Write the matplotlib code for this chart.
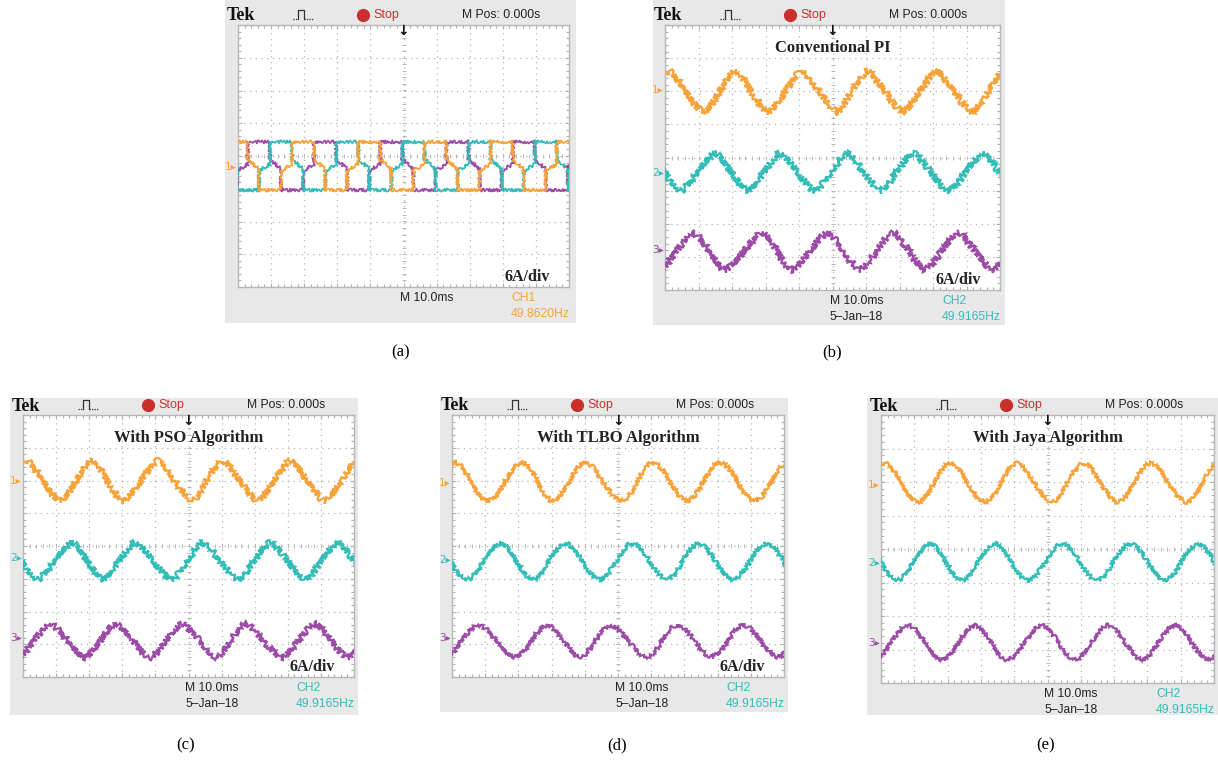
import numpy as np
import matplotlib.pyplot as plt
from matplotlib.path import Path
from matplotlib.patches import PathPatch
from matplotlib.ticker import MultipleLocator

W, H = 1218, 760
ORANGE, TEAL, PURPLE = '#f8a23a', '#33bdb7', '#9c4ca6'
GREY = '#e8e8e8'
RED = '#c9302c'
SERIF = 'Liberation Serif'
SANS = 'Liberation Sans'

# ---------- data (all in scope divisions) ----------
# (a) six-step currents
a_period = 2.0
a_top, a_bot = 0.43, -1.04
a_mid_fall = [-0.10, -0.40]
a_mid_rise = [-0.45, -0.25]
a_top_start = {'purple': 0.30, 'teal': 0.97, 'orange': -0.37}
a_mark = -0.34

# (b)-(e): x of successive extrema, levels alternate starting with lv[0]
b_orange_x = [-0.9, 0.1, 1.15, 2.09, 3.07, 4.09, 5.13, 6.03, 7.1, 8.1, 9.16, 10.12]
b_orange_lv = [1.38, 2.6]
b_teal_x = [-0.5, 0.45, 1.49, 2.48, 3.43, 4.48, 5.43, 6.42, 7.40, 8.45, 9.49, 10.45]
b_teal_lv = [0.12, -1.0]
b_purple_x = [-0.15, 0.84, 1.79, 2.9, 3.79, 4.84, 5.82, 6.81, 7.76, 8.75, 9.79, 10.8]
b_purple_lv = [-3.38, -2.28]
b_marks = [2.04, -0.47, -2.8]

c_orange_x = [-0.9, 0.1, 1.12, 2.08, 3.02, 4.08, 5.1, 6.01, 7.1, 8.07, 9.12, 10.1]
c_orange_lv = [1.38, 2.6]
c_teal_x = [-0.55, 0.42, 1.48, 2.42, 3.38, 4.5, 5.41, 6.5, 7.46, 8.52, 9.49, 10.5]
c_teal_lv = [0.1, -1.02]
c_purple_x = [-0.15, 0.82, 1.87, 2.78, 3.84, 4.8, 5.86, 6.7, 7.82, 8.82, 9.82, 10.8]
c_purple_lv = [-3.4, -2.38]
c_marks = [2.0, -0.37, -2.8]

d_orange_x = [-0.9, 0.08, 1.08, 2.11, 3.04, 4.0, 5.12, 6.05, 7.08, 8.07, 9.13, 10.1]
d_orange_lv = [1.38, 2.55]
d_teal_x = [-0.55, 0.45, 1.45, 2.44, 3.4, 4.46, 5.42, 6.48, 7.41, 8.46, 9.49, 10.5]
d_teal_lv = [0.08, -1.02]
d_purple_x = [-0.2, 0.79, 1.9, 2.86, 3.86, 4.76, 5.87, 6.78, 7.83, 8.77, 9.82, 10.8]
d_purple_lv = [-3.38, -2.42]
d_marks = [1.92, -0.43, -2.8]

e_orange_x = [-0.9, 0.1, 1.11, 2.07, 3.12, 4.08, 5.13, 6.07, 7.12, 8.08, 9.19, 10.1]
e_orange_lv = [1.4, 2.56]
e_teal_x = [-0.5, 0.48, 1.47, 2.43, 3.42, 4.41, 5.44, 6.49, 7.48, 8.53, 9.52, 10.5]
e_teal_lv = [0.16, -0.93]
e_purple_x = [-0.2, 0.81, 1.83, 2.82, 3.78, 4.83, 5.83, 6.82, 7.84, 8.83, 9.82, 10.8]
e_purple_lv = [-3.3, -2.28]
e_marks = [1.91, -0.42, -2.8]

titles = {'a': None, 'b': 'Conventional PI', 'c': 'With PSO Algorithm',
          'd': 'With TLBO Algorithm', 'e': 'With Jaya Algorithm'}
scale_txt = {'a': '6A/div', 'b': '6A/div', 'c': '6A/div', 'd': '6A/div', 'e': None}
ch_txt = {'a': ('CH1', '49.8620Hz', ORANGE), 'b': ('CH2', '49.9165Hz', TEAL),
          'c': ('CH2', '49.9165Hz', TEAL), 'd': ('CH2', '49.9165Hz', TEAL),
          'e': ('CH2', '49.9165Hz', TEAL)}
date_txt = {'a': None, 'b': '5\u2013Jan\u201318', 'c': '5\u2013Jan\u201318',
            'd': '5\u2013Jan\u201318', 'e': '5\u2013Jan\u201318'}

# layout in pixels: grey box, screen, caption
layout = {
    'a': ((225, 0, 576, 323), (238, 25, 569, 287), (401, 352)),
    'b': ((653, 0, 1005, 325), (665, 25, 1000, 290), (832, 352)),
    'c': ((10, 398, 358, 715), (23, 415, 354, 677), (186, 745)),
    'd': ((440, 398, 788, 712), (452, 415, 784, 677), (617, 745)),
    'e': ((867, 398, 1218, 715), (881, 415, 1214, 683), (1046, 745)),
}

fig = plt.figure(figsize=(W / 100, H / 100), dpi=100)


def px_axes(l, t, r, b):
    return fig.add_axes([l / W, 1 - b / H, (r - l) / W, (b - t) / H])


def add_panel(key):
    box, scr, cap = layout[key]
    l, t, r, b = box
    fa = px_axes(l, t, r, b)
    fa.set_xlim(l, r)
    fa.set_ylim(b, t)
    fa.set_facecolor(GREY)
    fa.set_xticks([])
    fa.set_yticks([])
    for s in fa.spines.values():
        s.set_visible(False)

    sl, st, sr, sb = scr
    # header
    hy = st - 10
    fa.text(sl - 11, hy + 1, 'Tek', family=SERIF, weight='bold', size=13,
            ha='left', va='center', color='#111')
    x0 = sl + 55
    fa.plot([x0, x0 + 5], [hy + 4, hy + 4], ls=(0, (1, 1)), lw=0.9, color='#333')
    fa.plot([x0 + 5, x0 + 5, x0 + 11, x0 + 11], [hy + 4, hy - 5, hy - 5, hy + 4],
            lw=0.9, color='#333')
    fa.plot([x0 + 11, x0 + 20], [hy + 4, hy + 4], ls=(0, (1, 1)), lw=0.9, color='#333')
    fa.plot([sl + 125], [hy], 'o', ms=8.5, color=RED)
    fa.text(sl + 135, hy, 'Stop', family=SANS, size=9, color=RED, va='center')
    fa.text(sl + 224, hy, 'M Pos: 0.000s', family=SANS, size=8.7, color='#222',
            va='center')
    # footer
    cx = (sl + sr) / 2
    fa.text(cx - 3, sb + 11, 'M 10.0ms', family=SANS, size=8.7, color='#222', va='center')
    if date_txt[key]:
        fa.text(cx - 3, sb + 27, date_txt[key], family=SANS, size=8.7, color='#222',
                va='center')
    ch, fr, cc = ch_txt[key]
    fa.text(sr - 58, sb + 11, ch, family=SANS, size=8.7, color=cc, va='center')
    fa.text(sr - 58, sb + 27, fr, family=SANS, size=8.7, color=cc, va='center')

    # screen
    sa = px_axes(sl, st, sr, sb)
    sa.set_xlim(0, 10)
    sa.set_ylim(-4, 4)
    sa.set_facecolor('white')
    for s in sa.spines.values():
        s.set_color('#b8b8b8')
        s.set_linewidth(1.0)
    for axis in (sa.xaxis, sa.yaxis):
        axis.set_major_locator(MultipleLocator(1))
        axis.set_minor_locator(MultipleLocator(0.2))
    sa.tick_params(which='both', direction='in', top=True, right=True,
                   labelbottom=False, labelleft=False, color='#b0b0b0')
    sa.tick_params(which='major', length=3, width=0.8)
    sa.tick_params(which='minor', length=2.5, width=0.8)
    sa.grid(True, which='major', color='#b4b4b4', ls=(0, (1, 3.6)), lw=0.9)
    tx = np.arange(0.2, 10, 0.2)
    sa.plot(tx, np.zeros_like(tx), ls='none', marker='|', ms=3.5, mew=0.7, color='#b8b8b8')
    ty = np.arange(-3.8, 4, 0.2)
    sa.plot(np.full_like(ty, 5), ty, ls='none', marker='_', ms=3.5, mew=0.7, color='#b8b8b8')
    sa.text(5, 4.02, '\u2193', ha='center', va='top', size=10, weight='bold',
            color='#111', clip_on=False, zorder=6)

    if titles[key]:
        sa.text(0.5, 1 - 23 / (sb - st), titles[key], transform=sa.transAxes,
                family=SERIF, weight='bold', size=12, color='#222',
                ha='center', va='center', zorder=6)
    if scale_txt[key]:
        sa.text(1 - 19 / (sr - sl), 10 / (sb - st), scale_txt[key], transform=sa.transAxes,
                family=SERIF, weight='bold', size=11.5, color='#222',
                ha='right', va='center', zorder=6)
    fig.text(cap[0] / W, 1 - cap[1] / H, '(' + key + ')', family=SERIF, size=12,
             ha='center', va='center')
    return fa, sa


def wave_path(xs, lv, k):
    verts = [(xs[0], lv[0])]
    codes = [Path.MOVETO]
    for i in range(1, len(xs)):
        x0, y0 = verts[-1]
        x1, y1 = xs[i], lv[i % 2]
        d = k * (x1 - x0)
        verts += [(x0 + d, y0), (x1 - d, y1), (x1, y1)]
        codes += [Path.CURVE4] * 3
    return Path(verts, codes)


def draw_sine(sa, xs, lv, color, k, lw, sk):
    p = PathPatch(wave_path(xs, lv, k), fill=False, edgecolor=color, lw=lw,
                  joinstyle='miter', capstyle='butt', zorder=4)
    p.set_sketch_params(*sk)
    sa.add_patch(p)


def channel_marks(fa, key, levels, colors):
    box, scr, cap = layout[key]
    sl, st, sr, sb = scr
    for lvl, c, n in zip(levels, colors, ['1', '2', '3']):
        y = st + (4 - lvl) / 8 * (sb - st)
        fa.text(sl - 1, y, n + '\u25b8', family='DejaVu Sans', size=7.5, color=c,
                ha='right', va='center')


# ---------- panel (a) ----------
fa, sa = add_panel('a')
cols = {'purple': PURPLE, 'teal': TEAL, 'orange': ORANGE}
f = [0, 1 / 3, 1 / 2, 5 / 6, 1]
for name, t0 in a_top_start.items():
    xs, ys = [], []
    for n in range(-1, 6):
        s = t0 + n * a_period
        p = [s + q * a_period for q in f]
        xs += [p[0], p[1], p[1], p[2], p[2], p[3], p[3], p[4]]
        ys += [a_top, a_top, a_mid_fall[0], a_mid_fall[1], a_bot, a_bot,
               a_mid_rise[0], a_mid_rise[1]]
    ln, = sa.plot(xs, ys, color=cols[name], lw=1.3, zorder=4)
    ln.set_sketch_params(1.5, 1.2, 2.0)
box, scr, cap = layout['a']
y_a = scr[1] + (4 - a_mark) / 8 * (scr[3] - scr[1])
fa.text(scr[0] - 1, y_a, '1\u25b8', family='DejaVu Sans', size=7.5, color=ORANGE,
        ha='right', va='center')
sa.text(10, -0.28, '\u25c2', family='DejaVu Sans', size=7.5, color=PURPLE,
        ha='right', va='center', zorder=6)

# ---------- panels (b)-(e) ----------
series = {
    'b': [(b_orange_x, b_orange_lv), (b_teal_x, b_teal_lv), (b_purple_x, b_purple_lv), b_marks],
    'c': [(c_orange_x, c_orange_lv), (c_teal_x, c_teal_lv), (c_purple_x, c_purple_lv), c_marks],
    'd': [(d_orange_x, d_orange_lv), (d_teal_x, d_teal_lv), (d_purple_x, d_purple_lv), d_marks],
    'e': [(e_orange_x, e_orange_lv), (e_teal_x, e_teal_lv), (e_purple_x, e_purple_lv), e_marks],
}
style = {'b': (0.22, 1.6, (3.2, 1.2, 2.0)), 'c': (0.22, 1.6, (3.0, 1.2, 2.0)),
         'd': (0.33, 1.6, (2.0, 1.2, 2.0)), 'e': (0.33, 1.6, (1.8, 1.2, 2.0))}
for key, sr_ in series.items():
    fa, sa = add_panel(key)
    k, lw, sk = style[key]
    for (xs, lv), c in zip(sr_[:3], [ORANGE, TEAL, PURPLE]):
        draw_sine(sa, xs, lv, c, k, lw, sk)
    channel_marks(fa, key, sr_[3], [ORANGE, TEAL, PURPLE])

fig.savefig('out.png', dpi=100)
